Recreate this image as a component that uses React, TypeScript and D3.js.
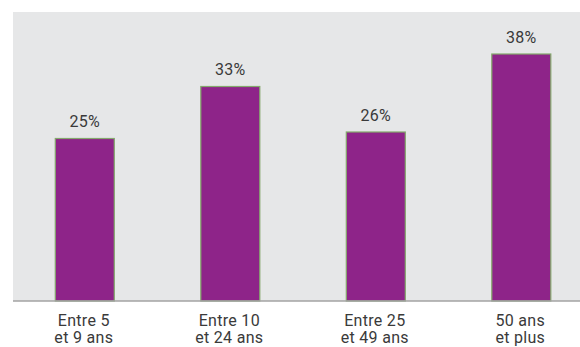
import React from "react";
import * as d3 from "d3";

const categories = ["Entre 5|et 9 ans", "Entre 10|et 24 ans", "Entre 25|et 49 ans", "50 ans|et plus"];
const values = [25, 33, 26, 38];
const valueLabels = ["25%", "33%", "26%", "38%"];

const W = 580;
const H = 347;
const panel = { left: 13, top: 12, right: 580, bottom: 301 };

export default function App() {
  const x = d3
    .scaleBand<string>()
    .domain(categories)
    .range([13, 593.1])
    .paddingInner(0.5945)
    .paddingOuter(0.2907);
  const y = d3.scaleLinear().domain([0, 40]).range([panel.bottom, panel.bottom - 260]);
  const font = "Roboto, 'DejaVu Sans', sans-serif";
  return (
    <svg width={W} height={H} style={{ position: "absolute", left: 0, top: 0 }}>
      <rect x={panel.left} y={panel.top} width={panel.right - panel.left} height={panel.bottom - panel.top} fill="#e6e7e8" />
      {categories.map((c, i) => {
        const bx = x(c)!;
        const bw = x.bandwidth();
        const top = y(values[i]);
        const cx = bx + bw / 2;
        const lines = c.split("|");
        return (
          <g key={c}>
            <rect x={bx} y={top} width={bw} height={y(0) - top} fill="#8e2489" stroke="#84a86c" strokeWidth={1.2} />
            <text x={cx} y={top - 11.5} textAnchor="middle" fontFamily={font} fontSize={16} letterSpacing={0.3} fill="#3a3a3a">
              {valueLabels[i]}
            </text>
            {lines.map((l, j) => (
              <text key={j} x={cx - 1} y={325.7 + j * 17.5} textAnchor="middle" fontFamily={font} fontSize={16} letterSpacing={0.3} fill="#3a3a3a">
                {l}
              </text>
            ))}
          </g>
        );
      })}
      <line x1={panel.left} x2={panel.right} y1={panel.bottom} y2={panel.bottom} stroke="#a3a3a3" strokeWidth={1.5} />
    </svg>
  );
}
